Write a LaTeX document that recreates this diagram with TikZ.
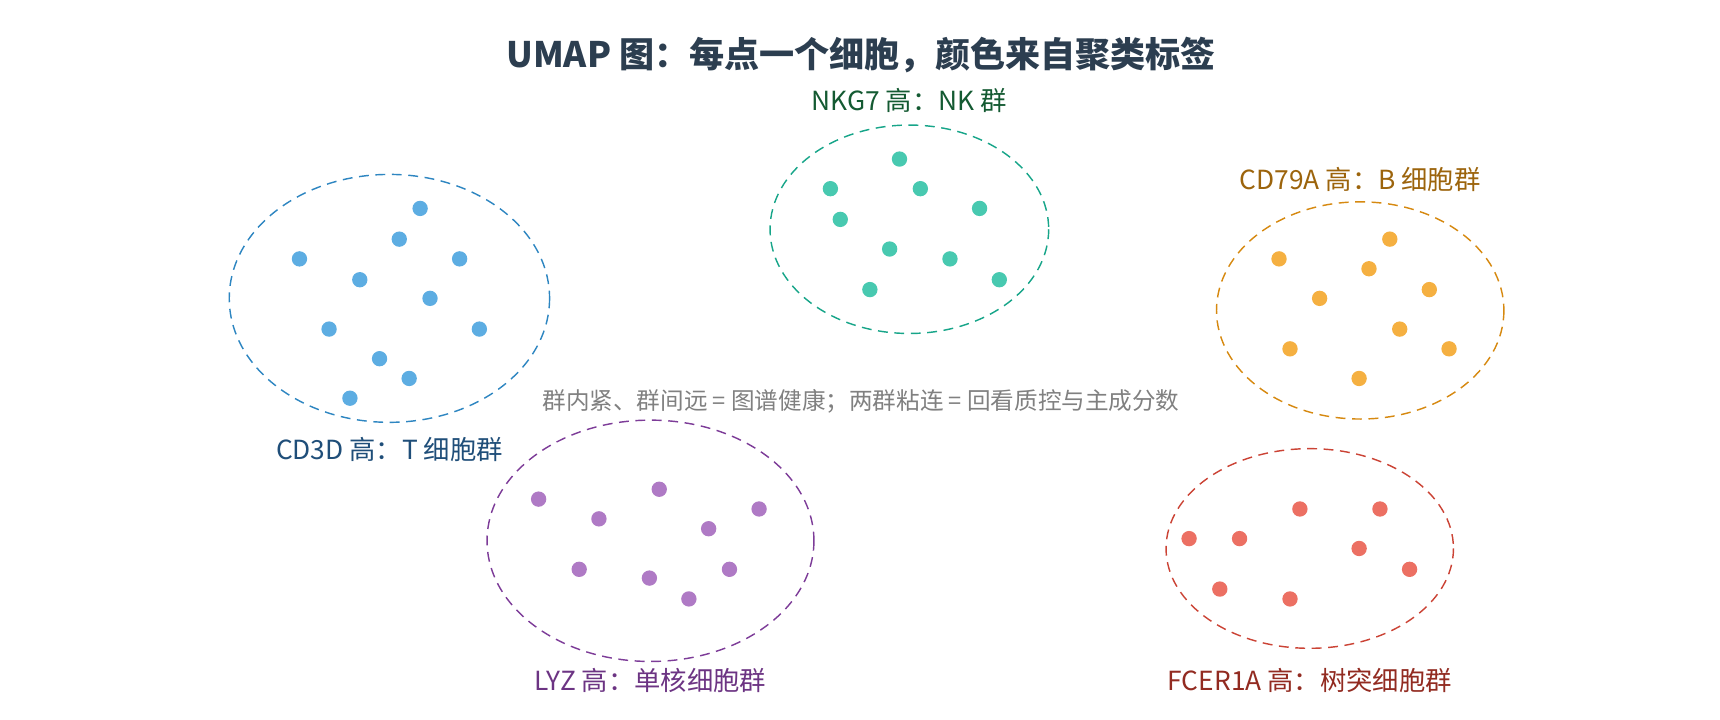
\documentclass[tikz,border=0pt]{standalone}
\usepackage{fontspec}
\setmainfont{Noto Sans CJK SC}
\begin{document}
\begin{tikzpicture}[x=1pt,y=-1pt,
  clu/.style={dashed,dash pattern=on 9pt off 6pt,line width=1.3pt},
  dot/.style={circle,inner sep=0pt,minimum size=14pt},
  lab/.style={font=\fontsize{24}{28}\selectfont,anchor=center}]
\useasboundingbox (0,0) rectangle (1568,656);
\node[font=\fontsize{32}{38}\selectfont\bfseries] (title) at (785,50) {\textcolor[HTML]{2C3E50}{UMAP 图：每点一个细胞，颜色来自聚类标签}};
% T
\draw[clu,draw={rgb,255:red,46;green,134;blue,193}] (355,272) ellipse [x radius=146,y radius=113];
\foreach \p [count=\i] in {(383,190),(364,218),(273,236),(419,236),(328,255),(392,272),(300,300),(437,300),(346,327),(373,345),(319,363)}
  \node[dot,fill={rgb,255:red,93;green,173;blue,226}] (t\i) at \p {};
\node[lab,text={rgb,255:red,31;green,78;blue,121}] (tl) at (355,410) {CD3D 高：T 细胞群};
% NK
\draw[clu,draw={rgb,255:red,23;green,165;blue,137}] (829,209) ellipse [x radius=127,y radius=95];
\foreach \p [count=\i] in {(820,145),(757,172),(839,172),(766,200),(893,190),(811,227),(866,236),(911,255),(793,264)}
  \node[dot,fill={rgb,255:red,72;green,201;blue,176}] (n\i) at \p {};
\node[lab,text={rgb,255:red,20;green,90;blue,50}] (nl) at (829,92) {NKG7 高：NK 群};
% B
\draw[clu,draw={rgb,255:red,214;green,137;blue,16}] (1240,283) ellipse [x radius=131,y radius=99];
\foreach \p [count=\i] in {(1267,218),(1166,236),(1248,245),(1203,272),(1303,264),(1276,300),(1176,318),(1321,318),(1239,345)}
  \node[dot,fill={rgb,255:red,245;green,176;blue,65}] (b\i) at \p {};
\node[lab,text={rgb,255:red,156;green,100;blue,12}] (bl) at (1240,164) {CD79A 高：B 细胞群};
% Mono
\draw[clu,draw={rgb,255:red,125;green,60;blue,152}] (593,493) ellipse [x radius=149,y radius=110];
\foreach \p [count=\i] in {(491,455),(601,446),(546,473),(692,464),(646,482),(528,519),(665,519),(592,527),(628,546)}
  \node[dot,fill={rgb,255:red,175;green,122;blue,197}] (m\i) at \p {};
\node[lab,text={rgb,255:red,108;green,52;blue,131}] (ml) at (593,620) {LYZ 高：单核细胞群};
% DC
\draw[clu,draw={rgb,255:red,203;green,67;blue,53}] (1194,500) ellipse [x radius=131,y radius=91];
\foreach \p [count=\i] in {(1185,464),(1258,464),(1084,491),(1130,491),(1239,500),(1285,519),(1112,537),(1176,546)}
  \node[dot,fill={rgb,255:red,236;green,112;blue,99}] (d\i) at \p {};
\node[lab,text={rgb,255:red,146;green,43;blue,33}] (dl) at (1194,620) {FCER1A 高：树突细胞群};
\node[font=\fontsize{21.5}{25}\selectfont,text=gray] (note) at (785,366) {群内紧、群间远 = 图谱健康；两群粘连 = 回看质控与主成分数};
\end{tikzpicture}
\end{document}
